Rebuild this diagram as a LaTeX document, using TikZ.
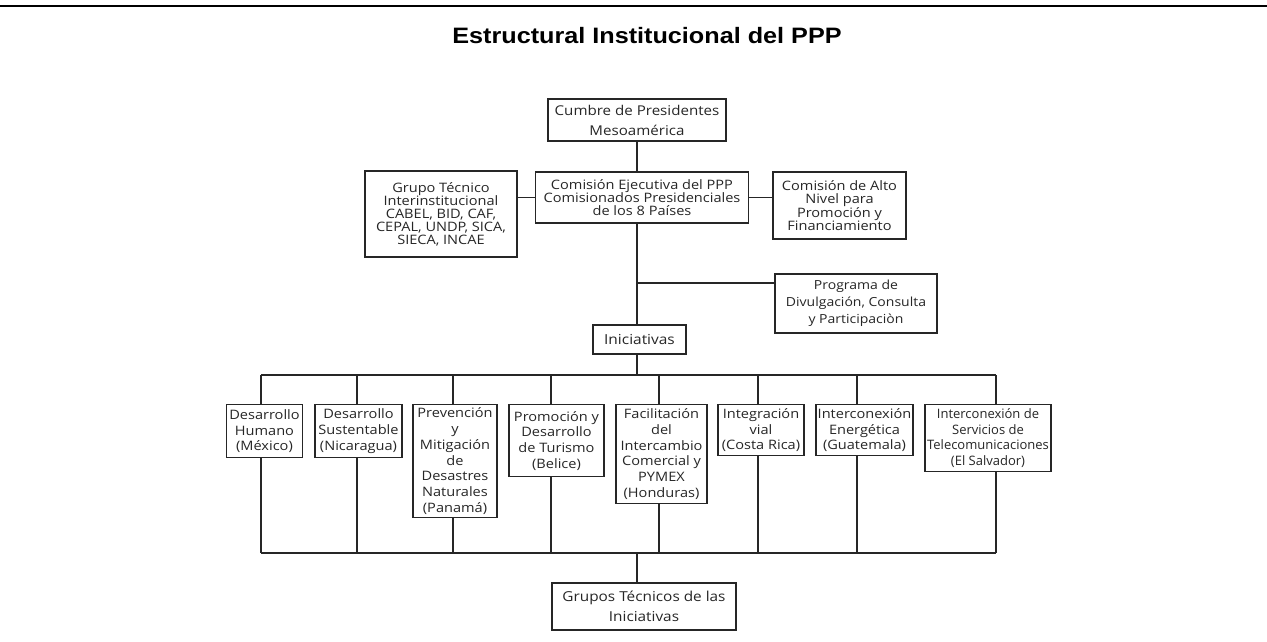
\documentclass[tikz,border=0pt]{standalone}
\usepackage{fontspec}
\setmainfont{Open Sans}[FakeStretch=1.12]
\newfontfamily\narrowfont{Open Sans}
\newfontfamily\titlefont{Liberation Sans}
\begin{document}
\begin{tikzpicture}[x=1pt,y=-1pt,
  box/.style={draw=black!85, line width=1.2pt, fill=white, inner sep=0pt, align=center, text=black!85},
  tight/.style={font=\fontsize{13}{13}\selectfont},
  loose/.style={font=\fontsize{13}{15.7}\selectfont},
  conn/.style={draw=black!85, line width=1.2pt}
]
\useasboundingbox (0,0) rectangle (1267,641);
\fill[white] (0,0) rectangle (1267,641);
\coordinate (rl) at (0,6);
\coordinate (rr) at (1267,6);
\draw[line width=2.4pt] (rl) -- (rr);
\node[anchor=base, font=\titlefont\bfseries\fontsize{22.3}{24}\selectfont] (title) at (647,43) {\scalebox{1.13}[1]{Estructural Institucional del PPP}};

% top level
\node[box, font=\fontsize{13.5}{20}\selectfont, minimum width=178pt, minimum height=42pt] (cumbre) at (637,120) {Cumbre de Presidentes\\Mesoamérica};
\node[box, tight, minimum width=213pt, minimum height=51pt] (comision) at (642,197.5) {Comisión Ejecutiva del PPP\\Comisionados Presidenciales\\de los 8 Países};
\node[box, tight, minimum width=152pt, minimum height=86pt] (grupo) at (441,214) {Grupo Técnico\\Interinstitucional\\CABEL, BID, CAF,\\CEPAL, UNDP, SICA,\\SIECA, INCAE};
\node[box, tight, minimum width=133pt, minimum height=67pt] (alto) at (839.5,205.5) {Comisión de Alto\\Nivel para\\Promoción y\\Financiamiento};
\node[box, font=\fontsize{12.5}{17}\selectfont, minimum width=162pt, minimum height=59pt] (programa) at (856,303.5) {Programa de\\Divulgación, Consulta\\y Participaciòn};
\node[box, font=\fontsize{13.8}{15}\selectfont, minimum width=93pt, minimum height=29pt] (inic) at (639.5,339.5) {Iniciativas};

\draw[conn] (cumbre.south) -- (cumbre.south |- comision.north);
\draw[conn] (comision.west) -- (comision.west -| grupo.east);
\draw[conn] (comision.east) -- (comision.east -| alto.west);
\coordinate (branch) at (637,283);
\draw[conn] (cumbre.south |- comision.south) -- (cumbre.south |- inic.north);
\draw[conn] (branch) -- (branch -| programa.west);

% bus lines
\coordinate (tl) at (261,375);
\coordinate (tr) at (996,375);
\coordinate (bl) at (261,553);
\coordinate (br) at (996,553);
\draw[conn] (cumbre.south |- inic.south) -- (cumbre.south |- tl);
\draw[conn] (tl) -- (tr);
\draw[conn] (bl) -- (br);

% initiative boxes (top y = 404)
\node[box, loose, anchor=north, minimum width=76pt, minimum height=53pt] (dh) at (264.5,404) {Desarrollo\\Humano\\(México)};
\node[box, loose, anchor=north, minimum width=87pt, minimum height=53pt] (ds) at (358.5,404) {Desarrollo\\Sustentable\\(Nicaragua)};
\node[box, loose, anchor=north, minimum width=84pt, minimum height=113pt] (pm) at (455,404) {Prevención\\y\\Mitigación\\de\\Desastres\\Naturales\\(Panamá)};
\node[box, loose, anchor=north, minimum width=95pt, minimum height=72pt] (pt) at (556.5,404) {Promoción y\\Desarrollo\\de Turismo\\(Belice)};
\node[box, loose, anchor=north, minimum width=91pt, minimum height=99pt] (fc) at (661.5,404) {Facilitación\\del\\Intercambio\\Comercial y\\PYMEX\\(Honduras)};
\node[box, loose, anchor=north, minimum width=86pt, minimum height=51pt] (iv) at (761,404) {Integración\\vial\\(Costa Rica)};
\node[box, loose, anchor=north, minimum width=97pt, minimum height=51pt] (ie) at (864.5,404) {Interconexión\\Energética\\(Guatemala)};
\node[box, anchor=north, font=\narrowfont\fontsize{13}{15.7}\selectfont, minimum width=126pt, minimum height=67pt] (it) at (988,404) {Interconexión de\\Servicios de\\Telecomunicaciones\\(El Salvador)};

\node[box, font=\fontsize{13.7}{20}\selectfont, minimum width=184pt, minimum height=47pt] (gt) at (644,606.5) {Grupos Técnicos de las\\Iniciativas};

% drops
\foreach \n/\x in {dh/261, ds/357, pm/453, pt/551, fc/659, iv/758, ie/857, it/996}{
  \coordinate (t\n) at (\x,375);
  \coordinate (b\n) at (\x,553);
  \draw[conn] (t\n) -- (t\n |- \n.north);
  \draw[conn] (\n.south -| b\n) -- (b\n);
}
\draw[conn] (cumbre.south |- bl) -- (cumbre.south |- gt.north);
\end{tikzpicture}
\end{document}
